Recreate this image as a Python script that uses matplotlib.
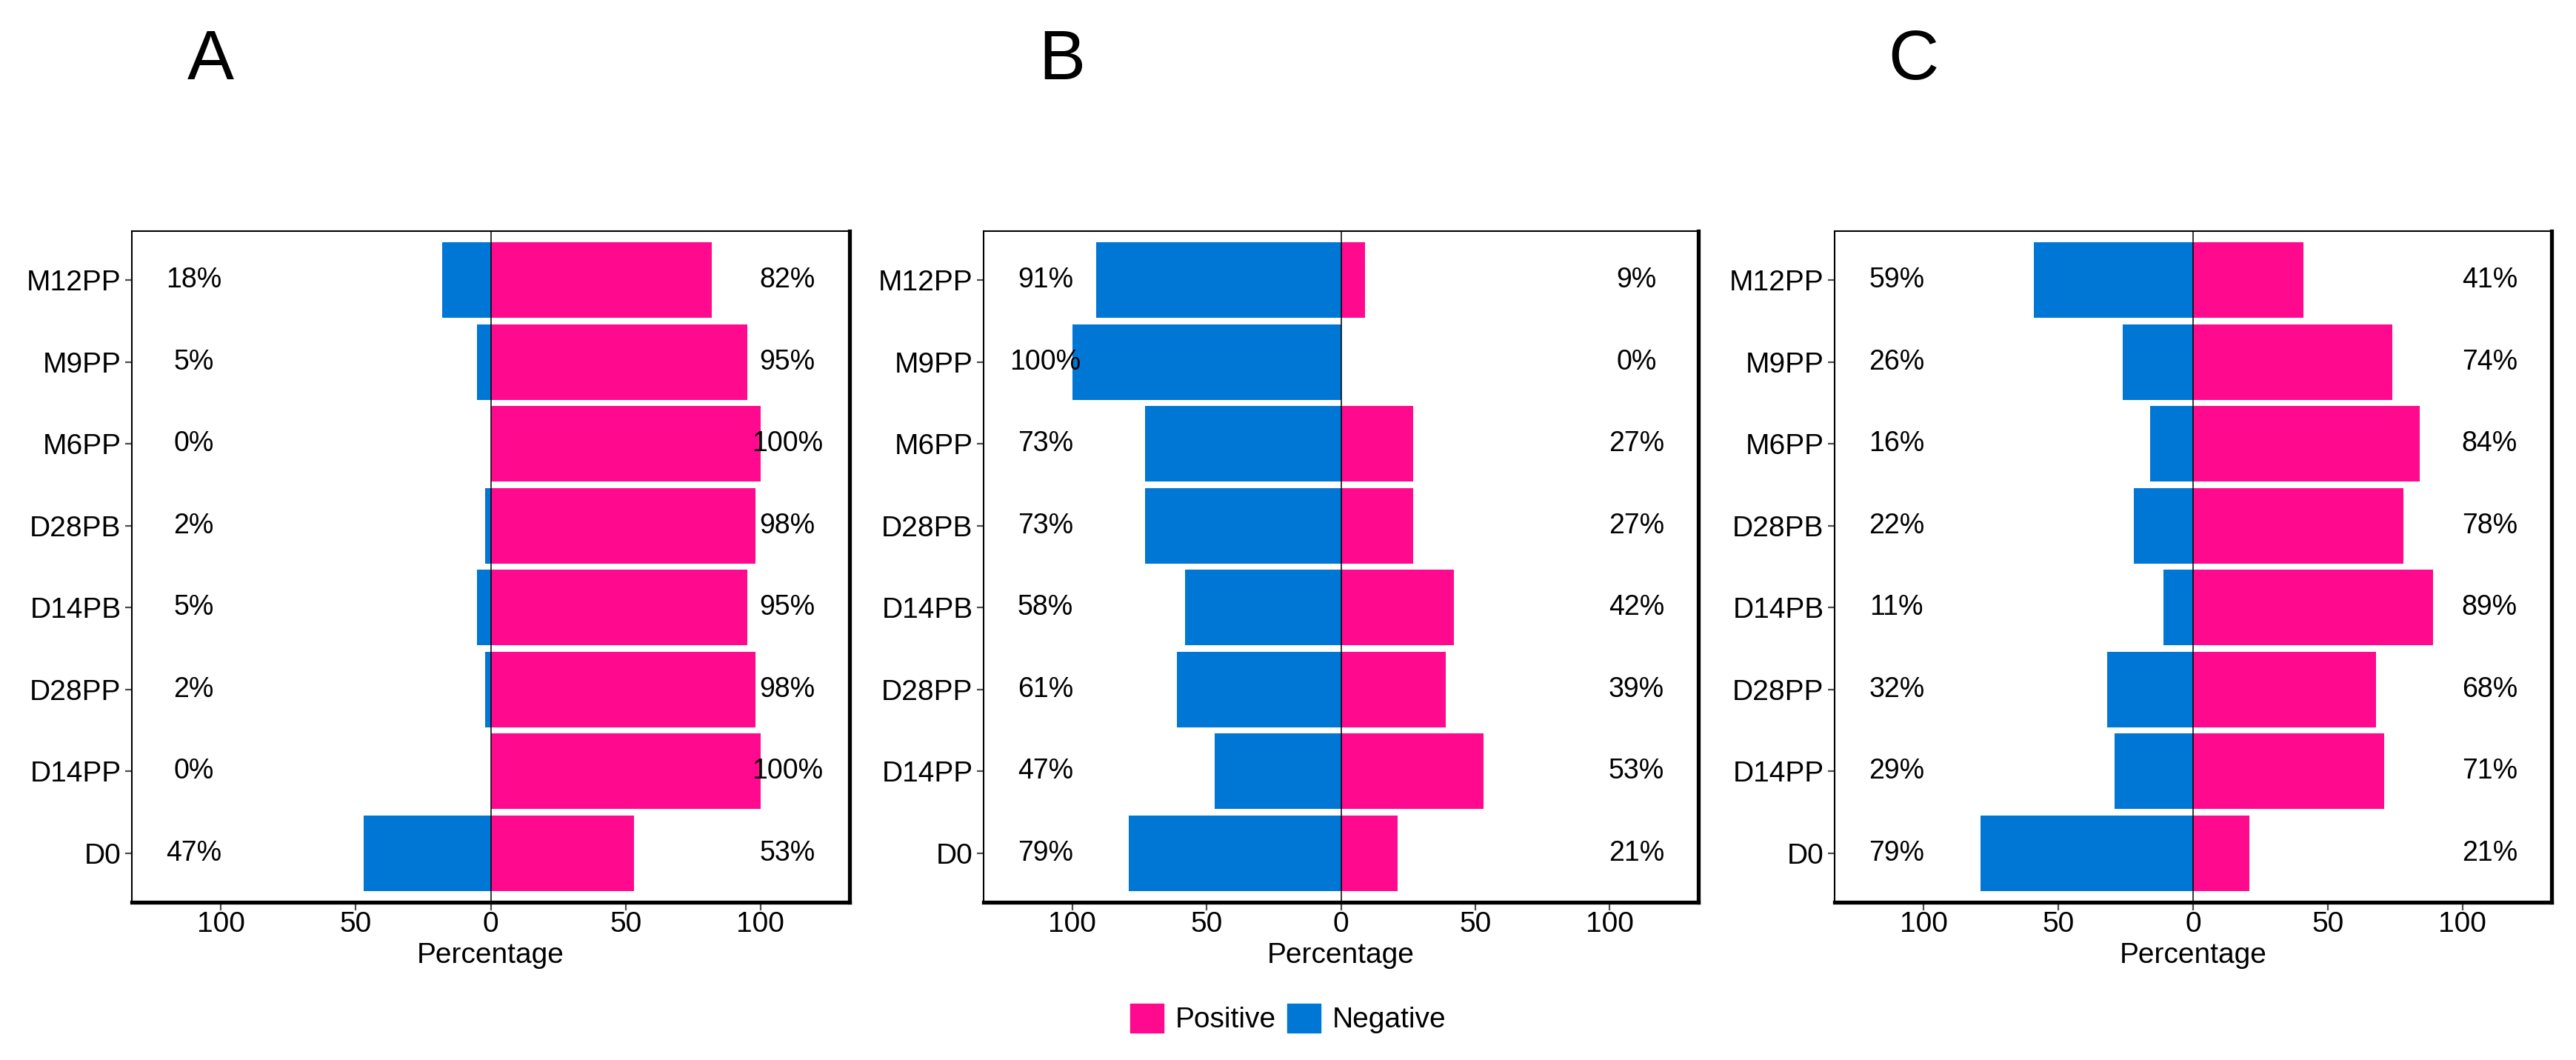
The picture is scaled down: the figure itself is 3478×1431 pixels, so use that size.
import matplotlib
matplotlib.use('Agg')
from matplotlib import pyplot as plt
from matplotlib.patches import Patch

plt.rcParams['font.family'] = ['Liberation Sans', 'DejaVu Sans']

groups = ['D0', 'D14PP', 'D28PP', 'D14PB', 'D28PB', 'M6PP', 'M9PP', 'M12PP']
panels = ['A', 'B', 'C']

pos_a = [53, 100, 98, 95, 98, 100, 95, 82]
neg_a = [47, 0, 2, 5, 2, 0, 5, 18]
pos_b = [21, 53, 39, 42, 27, 27, 0, 9]
neg_b = [79, 47, 61, 58, 73, 73, 100, 91]
pos_c = [21, 71, 68, 89, 78, 84, 74, 41]
neg_c = [79, 29, 32, 11, 22, 16, 26, 59]

ticks = [-100, -50, 0, 50, 100]
tick_labels = ['100', '50', '0', '50', '100']

pink = '#FF0A8F'
blue = '#0077D5'

W, H = 3478, 1431
fig = plt.figure(figsize=(W / 100, H / 100), dpi=100)

boxes = [(178, 1147), (1328, 2293), (2477, 3445)]
top, bottom = 312, 1218

data = [(pos_a, neg_a), (pos_b, neg_b), (pos_c, neg_c)]
for (x0, x1), letter, (pos, neg) in zip(boxes, panels, data):
    ax = fig.add_axes([x0 / W, (H - bottom) / H, (x1 - x0) / W, (bottom - top) / H])
    y = list(range(len(groups)))
    ax.barh(y, pos, height=0.92, color=pink, zorder=2)
    ax.barh(y, [-v for v in neg], height=0.92, color=blue, zorder=2)
    ax.axvline(0, color='black', lw=1.1, zorder=3)
    for yi, p, n in zip(y, pos, neg):
        ax.text(-110, yi, '{}%'.format(n), ha='center', va='center', fontsize=27)
        ax.text(110, yi, '{}%'.format(p), ha='center', va='center', fontsize=27)
    ax.set_xlim(-133, 133)
    ax.set_ylim(-0.6, len(groups) - 0.4)
    ax.set_yticks(y)
    ax.set_yticklabels(groups, fontsize=28)
    ax.set_xticks(ticks)
    ax.set_xticklabels(tick_labels, fontsize=28)
    ax.tick_params(axis='x', length=8, width=1.6, color='#4d4d4d', pad=1)
    ax.tick_params(axis='y', length=6.5, width=1.6, color='#4d4d4d', pad=4)
    ax.set_xlabel('Percentage', fontsize=28, labelpad=4)
    for side in ['left', 'top']:
        ax.spines[side].set_linewidth(1.5)
    for side in ['right', 'bottom']:
        ax.spines[side].set_linewidth(3.8)
    ax.text(106 / (x1 - x0), (top - 107) / (bottom - top) + 1, letter,
            transform=ax.transAxes, ha='center', va='baseline', fontsize=68)

handles = [Patch(color=pink, label='Positive'), Patch(color=blue, label='Negative')]
fig.legend(handles=handles, loc='center', bbox_to_anchor=(0.5, 0.039), ncol=2,
           frameon=False, fontsize=28, handlelength=1.15, handleheight=1.15,
           handletextpad=0.4, columnspacing=0.4)

fig.savefig('out.png', dpi=100)
